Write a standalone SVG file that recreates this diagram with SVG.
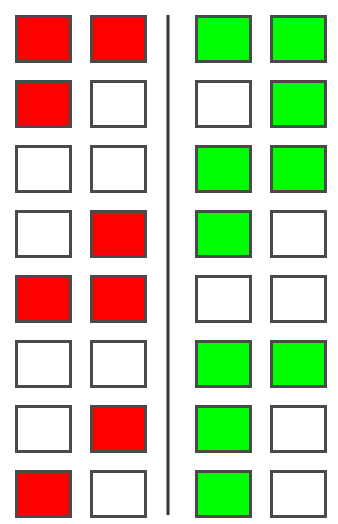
<svg xmlns="http://www.w3.org/2000/svg" width="338" height="524" viewBox="0 0 338 524">
<style>
.b{stroke:#4a4a4a;stroke-width:3}
.r{fill:#ff0000}
.g{fill:#00ff00}
.w{fill:#ffffff}
</style>
<defs>
<rect id="sq" x="0" y="0" width="54" height="45"/>
</defs>
<rect width="338" height="524" fill="#ffffff"/>
<g id="connectors">
<line x1="168" y1="15" x2="168" y2="515" stroke="#333" stroke-width="3"/>
</g>
<g id="left">
<use href="#sq" class="b r" x="16.5" y="16.5"/><use href="#sq" class="b r" x="91.5" y="16.5"/>
<use href="#sq" class="b r" x="16.5" y="81.5"/><use href="#sq" class="b w" x="91.5" y="81.5"/>
<use href="#sq" class="b w" x="16.5" y="146.5"/><use href="#sq" class="b w" x="91.5" y="146.5"/>
<use href="#sq" class="b w" x="16.5" y="211.5"/><use href="#sq" class="b r" x="91.5" y="211.5"/>
<use href="#sq" class="b r" x="16.5" y="276.5"/><use href="#sq" class="b r" x="91.5" y="276.5"/>
<use href="#sq" class="b w" x="16.5" y="341.5"/><use href="#sq" class="b w" x="91.5" y="341.5"/>
<use href="#sq" class="b w" x="16.5" y="406.5"/><use href="#sq" class="b r" x="91.5" y="406.5"/>
<use href="#sq" class="b r" x="16.5" y="471.5"/><use href="#sq" class="b w" x="91.5" y="471.5"/>
</g>
<g id="right">
<use href="#sq" class="b g" x="196.5" y="16.5"/><use href="#sq" class="b g" x="271.5" y="16.5"/>
<use href="#sq" class="b w" x="196.5" y="81.5"/><use href="#sq" class="b g" x="271.5" y="81.5"/>
<use href="#sq" class="b g" x="196.5" y="146.5"/><use href="#sq" class="b g" x="271.5" y="146.5"/>
<use href="#sq" class="b g" x="196.5" y="211.5"/><use href="#sq" class="b w" x="271.5" y="211.5"/>
<use href="#sq" class="b w" x="196.5" y="276.5"/><use href="#sq" class="b w" x="271.5" y="276.5"/>
<use href="#sq" class="b g" x="196.5" y="341.5"/><use href="#sq" class="b g" x="271.5" y="341.5"/>
<use href="#sq" class="b g" x="196.5" y="406.5"/><use href="#sq" class="b w" x="271.5" y="406.5"/>
<use href="#sq" class="b g" x="196.5" y="471.5"/><use href="#sq" class="b w" x="271.5" y="471.5"/>
</g>
</svg>
